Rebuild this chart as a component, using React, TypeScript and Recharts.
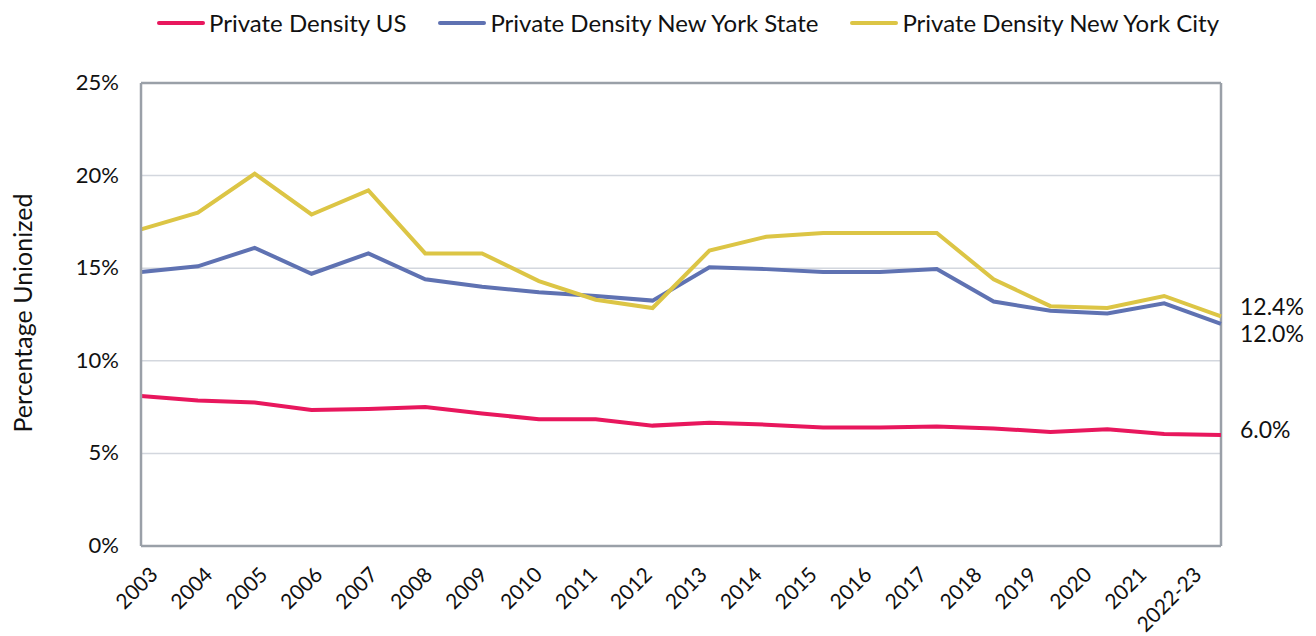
import { LineChart, Line, XAxis, YAxis, CartesianGrid, ReferenceLine, LabelList } from 'recharts';

const years = ['2003', '2004', '2005', '2006', '2007', '2008', '2009', '2010', '2011', '2012', '2013', '2014', '2015', '2016', '2017', '2018', '2019', '2020', '2021', '2022-23'];
const usDensity = [8.1, 7.85, 7.75, 7.35, 7.4, 7.5, 7.15, 6.85, 6.85, 6.5, 6.65, 6.55, 6.4, 6.4, 6.45, 6.35, 6.15, 6.3, 6.05, 6.0];
const nysDensity = [14.8, 15.1, 16.1, 14.7, 15.8, 14.4, 14.0, 13.7, 13.5, 13.25, 15.05, 14.95, 14.8, 14.8, 14.95, 13.2, 12.7, 12.55, 13.1, 12.0];
const nycDensity = [17.1, 18.0, 20.1, 17.9, 19.2, 15.8, 15.8, 14.3, 13.3, 12.85, 15.95, 16.7, 16.9, 16.9, 16.9, 14.4, 12.95, 12.85, 13.5, 12.4];
const yTicks = [0, 5, 10, 15, 20, 25];

const data = years.map((year, i) => ({
  year,
  us: usDensity[i],
  nys: nysDensity[i],
  nyc: nycDensity[i],
}));

const FONT = 'Lato, "Open Sans", sans-serif';
const AXIS = '#9aa0a8';
const GRID = '#d3d7de';

const series = [
  { key: 'us', name: 'Private Density US', color: '#e8175d' },
  { key: 'nys', name: 'Private Density New York State', color: '#5f72b2' },
  { key: 'nyc', name: 'Private Density New York City', color: '#dcc545' },
];

const XTick = ({ x, y, payload, index }: any) => {
  const dx = 18 - index * 1.9;
  return (
    <text
      x={x + dx}
      y={y + 22}
      transform={`rotate(-45, ${x + dx}, ${y + 22})`}
      textAnchor="end"
      fontSize={21}
      fontFamily={FONT}
      fill="#111"
    >
      {payload.value}
    </text>
  );
};

const YTick = ({ x, y, payload }: any) => (
  <text x={x - 14} y={y} dy={7} textAnchor="end" fontSize={22} fontFamily={FONT} fill="#111">
    {payload.value}%
  </text>
);

const YLabel = () => (
  <text
    x={22}
    y={313}
    transform="rotate(-90, 22, 313)"
    textAnchor="middle"
    dominantBaseline="central"
    fontSize={25}
    fontFamily={FONT}
    fill="#111"
  >
    Percentage Unionized
  </text>
);

const endLabel = (dy: number) => (props: any) => {
  const { x, y, value, index } = props;
  if (index !== years.length - 1) return null;
  return (
    <text x={x + 19} y={y + dy} dy={8} fontSize={23} fontFamily={FONT} fill="#111">
      {Number(value).toFixed(1)}%
    </text>
  );
};

export default function App() {
  return (
    <div style={{ position: 'absolute', left: 0, top: 0, width: 1316, height: 636, background: '#fff' }}>
      <div
        style={{
          position: 'absolute',
          top: 8,
          left: 157,
          display: 'flex',
          alignItems: 'center',
          fontFamily: FONT,
          fontSize: 24,
          color: '#111',
          whiteSpace: 'nowrap',
        }}
      >
        {series.map((s) => (
          <div key={s.key} style={{ display: 'flex', alignItems: 'center', marginRight: 32 }}>
            <span style={{ display: 'inline-block', width: 48, height: 4, borderRadius: 2, background: s.color, marginRight: 4 }} />
            <span>{s.name}</span>
          </div>
        ))}
      </div>
      <LineChart width={1316} height={636} data={data} margin={{ top: 83, right: 95, left: 0, bottom: 0 }}>
        <CartesianGrid vertical={false} stroke={GRID} strokeWidth={1.5} />
        <XAxis
          dataKey="year"
          interval={0}
          tick={<XTick />}
          tickLine={false}
          axisLine={{ stroke: AXIS, strokeWidth: 2.5 }}
          height={90}
        />
        <YAxis
          domain={[0, 25]}
          ticks={yTicks}
          tick={<YTick />}
          tickLine={false}
          axisLine={{ stroke: AXIS, strokeWidth: 2.5 }}
          width={141}
          label={<YLabel />}
        />
        <ReferenceLine y={25} stroke={AXIS} strokeWidth={2.5} />
        <ReferenceLine x="2022-23" stroke={AXIS} strokeWidth={2.5} />
        <Line type="linear" dataKey="us" name="Private Density US" stroke="#e8175d" strokeWidth={4} dot={false} isAnimationActive={false}>
          <LabelList dataKey="us" content={endLabel(-5)} />
        </Line>
        <Line type="linear" dataKey="nys" name="Private Density New York State" stroke="#5f72b2" strokeWidth={4} dot={false} isAnimationActive={false}>
          <LabelList dataKey="nys" content={endLabel(10)} />
        </Line>
        <Line type="linear" dataKey="nyc" name="Private Density New York City" stroke="#dcc545" strokeWidth={4} dot={false} isAnimationActive={false}>
          <LabelList dataKey="nyc" content={endLabel(-9)} />
        </Line>
      </LineChart>
    </div>
  );
}
